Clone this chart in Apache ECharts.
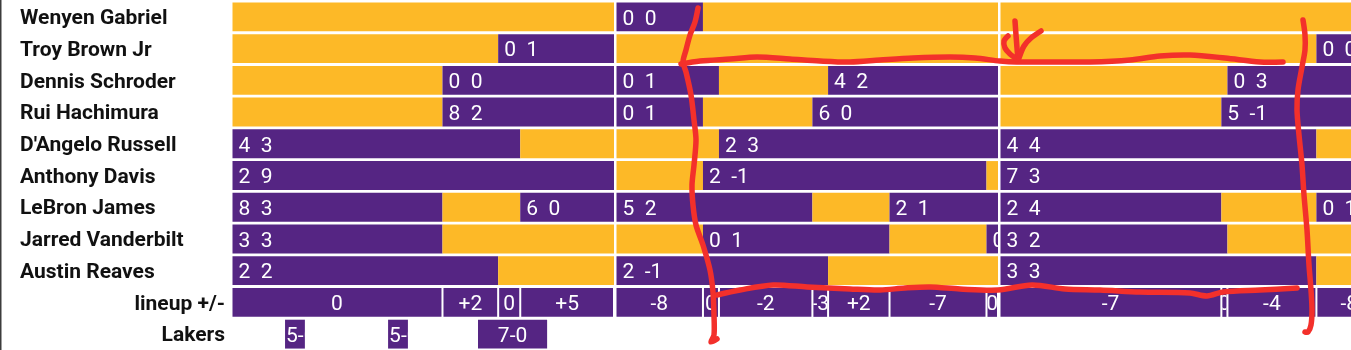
<!DOCTYPE html>
<html>
<head>
<meta charset="utf-8">
<script src="https://cdn.jsdelivr.net/npm/echarts@6/dist/echarts.min.js"></script>
<style>
  html, body { margin: 0; padding: 0; background: #ffffff; }
  #chart { width: 1351px; height: 350px; }
</style>
</head>
<body>
<div id="chart"></div>
<script>
// Lakers rotation chart: purple = on court, gold = on the bench.
const PURPLE = '#552583';
const GOLD = '#FDB927';
const FONT = 'Roboto';

const players = [
  'Wenyen Gabriel', 'Troy Brown Jr', 'Dennis Schroder', 'Rui Hachimura',
  "D'Angelo Russell", 'Anthony Davis', 'LeBron James', 'Jarred Vanderbilt', 'Austin Reaves'
];
const summaryRows = ['lineup +/-', 'Lakers'];
const quarterLength = 12;
const periods = [[0, 12], [12, 24], [24, 36]];

// On-court stints per player: [start minute, end minute, stat A, stat B]
const wenyenGabriel = [[12, 14.78, 0, 0]];
const troyBrownJr = [[8.38, 12, 0, 1], [33.95, 36, 0, 0]];
const dennisSchroder = [[6.64, 12, 0, 0], [12, 15.28, 0, 1], [18.69, 24, 4, 2], [31.17, 36, 0, 3]];
const ruiHachimura = [[6.64, 12, 8, 2], [12, 14.78, 0, 1], [18.2, 24, 6, 0], [30.98, 36, 5, -1]];
const dangeloRussell = [[0, 9.07, 4, 3], [15.28, 24, 2, 3], [24, 33.95, 4, 4]];
const anthonyDavis = [[0, 12, 2, 9], [14.78, 23.64, 2, -1], [24, 36, 7, 3]];
const lebronJames = [[0, 6.64, 8, 3], [9.07, 12, 6, 0], [12, 18.2, 5, 2], [20.61, 24, 2, 1], [24, 30.98, 2, 4], [33.95, 36, 0, 1]];
const jarredVanderbilt = [[0, 6.64, 3, 3], [14.78, 20.61, 0, 1], [23.64, 24, 0, 0], [24, 31.17, 3, 2]];
const austinReaves = [[0, 8.38, 2, 2], [12, 18.69, 2, -1], [24, 33.95, 3, 3]];

// Plus/minus of each five-man unit: [start, end, +/-]
const lineupPlusMinus = [
  [0, 6.64, 0], [6.64, 8.38, 2], [8.38, 9.07, 0], [9.07, 12, 5],
  [12, 14.78, -8], [14.78, 15.28, 0], [15.28, 18.2, -2], [18.2, 18.69, -3],
  [18.69, 20.61, 2], [20.61, 23.64, -7], [23.64, 24, 0],
  [24, 30.98, -7], [30.98, 31.17, 0], [31.17, 33.95, -4], [33.95, 36, -8]
];

// Scoring runs: [start, end, run]
const lakersRuns = [[1.72, 2.34, '5-0'], [4.94, 5.56, '5-0'], [7.75, 9.91, '7-0']];

const playerStints = [
  wenyenGabriel, troyBrownJr, dennisSchroder, ruiHachimura, dangeloRussell,
  anthonyDavis, lebronJames, jarredVanderbilt, austinReaves
];
const rowLabels = players.concat(summaryRows);

// Hand-drawn highlight strokes (pixel paths)
const highlightStrokes = [
  [[698, 8], [695, 22], [690, 35], [686, 50], [683, 62], [686, 72], [691, 95], [694, 120], [696, 140],
   [694, 165], [692, 185], [693, 205], [696, 225], [703, 245], [710, 270], [713, 292], [714, 315],
   [714, 335], [711, 342], [717, 339]],
  [[681, 64], [700, 61], [730, 59], [757, 57], [790, 59], [820, 61], [850, 62], [880, 60], [913, 58],
   [950, 57], [975, 58], [1000, 61], [1017, 62], [1050, 62], [1090, 62], [1130, 60], [1160, 56],
   [1190, 55], [1225, 58], [1260, 62], [1283, 62]],
  [[1015, 21], [1016, 35], [1017, 48], [1018, 60]],
  [[1008, 36], [1004, 41], [1005, 48], [1010, 54], [1017, 59]],
  [[1041, 31], [1031, 38], [1024, 46], [1019, 58]],
  [[1303, 20], [1305, 35], [1305, 50], [1302, 67], [1298, 90], [1297, 110], [1299, 135], [1302, 165],
   [1304, 195], [1307, 230], [1309, 265], [1311, 290], [1312, 310], [1311, 325], [1308, 332], [1305, 332]],
  [[717, 295], [740, 290], [773, 285], [807, 287], [850, 289], [880, 290], [905, 288], [930, 287],
   [960, 289], [998, 290], [1032, 285], [1065, 289], [1100, 290], [1140, 292], [1190, 293],
   [1207, 296], [1223, 292], [1260, 290], [1297, 288]]
];

// ---- build drawable segments ----
function statText(a, b) {
  return a + '  ' + b;
}

const playerSegments = [];
playerStints.forEach(function (stints, row) {
  periods.forEach(function (p) {
    let t = p[0];
    stints
      .filter(function (s) { return s[0] >= p[0] && s[1] <= p[1]; })
      .sort(function (a, b) { return a[0] - b[0]; })
      .forEach(function (s) {
        if (s[0] > t) playerSegments.push({ row: row, start: t, end: s[0], on: false });
        playerSegments.push({ row: row, start: s[0], end: s[1], on: true, text: statText(s[2], s[3]) });
        t = s[1];
      });
    if (t < p[1]) playerSegments.push({ row: row, start: t, end: p[1], on: false });
  });
});

const lineupRow = players.length;
const runsRow = players.length + 1;
const lineupSegments = lineupPlusMinus.map(function (d) {
  return { row: lineupRow, start: d[0], end: d[1], text: d[2] > 0 ? '+' + d[2] : String(d[2]) };
});
const runSegments = lakersRuns.map(function (d) {
  return { row: runsRow, start: d[0], end: d[1], text: d[2] };
});

const LABEL_SIZE = 21;
const measureCtx = document.createElement('canvas').getContext('2d');
function textWidth(text, size) {
  measureCtx.font = size + 'px ' + FONT;
  return measureCtx.measureText(text).width;
}

function segmentBox(api, seg, inset) {
  const a = api.coord([seg.start, seg.row]);
  const b = api.coord([seg.end, seg.row]);
  const band = api.size([0, 1])[1];
  const h = band * 0.91;
  const lead = seg.start % quarterLength === 0 ? 2.5 : 0;
  const x = a[0] + Math.max(lead, inset);
  return { x: x, y: a[1] - h / 2, width: Math.max(0, b[0] - inset - x), height: h };
}

function labelEl(box, text, x, align) {
  return {
    type: 'text',
    style: {
      text: text, x: x, y: box.y + box.height / 2 + 2.5,
      fill: '#ffffff', font: LABEL_SIZE + 'px ' + FONT,
      textAlign: align, textVerticalAlign: 'middle'
    },
    clipPath: { type: 'rect', shape: { x: box.x, y: box.y, width: box.width, height: box.height } }
  };
}

function renderPlayer(params, api) {
  const seg = playerSegments[params.dataIndex];
  const box = segmentBox(api, seg, 0);
  const children = [{ type: 'rect', shape: box, style: { fill: seg.on ? PURPLE : GOLD } }];
  if (seg.text) children.push(labelEl(box, seg.text, box.x + 6, 'left'));
  return { type: 'group', children: children };
}

function renderLineup(params, api) {
  const seg = lineupSegments[params.dataIndex];
  const box = segmentBox(api, seg, 1);
  return {
    type: 'group',
    children: [
      { type: 'rect', shape: box, style: { fill: PURPLE } },
      labelEl(box, seg.text, box.x + box.width / 2, 'center')
    ]
  };
}

function renderRun(params, api) {
  const seg = runSegments[params.dataIndex];
  const box = segmentBox(api, seg, 0);
  const w = textWidth(seg.text, LABEL_SIZE);
  const cx = Math.max(box.x + 1 + w / 2, box.x + box.width / 2);
  return {
    type: 'group',
    children: [
      { type: 'rect', shape: box, style: { fill: PURPLE } },
      labelEl(box, seg.text, cx, 'center')
    ]
  };
}

function toData(segs) {
  return segs.map(function (s) { return [s.row, s.start, s.end]; });
}

const customBase = {
  type: 'custom',
  encode: { x: [1, 2], y: 0 },
  clip: false,
  silent: true
};

const chart = echarts.init(document.getElementById('chart'), null, { renderer: 'canvas' });
chart.setOption({
  animation: false,
  backgroundColor: '#ffffff',
  grid: { left: 230, right: 0, top: 1, height: 350 },
  xAxis: {
    type: 'value', min: 0, max: (1351 - 230) / 32,
    show: false, splitLine: { show: false }
  },
  yAxis: {
    type: 'category',
    data: rowLabels,
    inverse: true,
    axisLine: { show: false },
    axisTick: { show: false },
    splitLine: { show: false },
    axisLabel: {
      interval: 0,
      margin: 210,
      align: 'left',
      padding: [4, 0, 0, 0],
      fontFamily: FONT,
      fontWeight: 'bold',
      fontSize: 21,
      color: '#111111',
      formatter: function (v) {
        return summaryRows.indexOf(v) >= 0 ? '{r|' + v + '}' : v;
      },
      rich: {
        r: { width: 205, align: 'right', fontFamily: FONT, fontWeight: 'bold', fontSize: 21, color: '#111111' }
      }
    }
  },
  graphic: [
    { type: 'rect', shape: { x: 0, y: 0, width: 1.5, height: 350 }, style: { fill: '#3c3c3c' }, z: 100 }
  ].concat(highlightStrokes.map(function (pts) {
    return {
      type: 'polyline',
      shape: { points: pts, smooth: 0.3 },
      style: { stroke: '#f3302b', lineWidth: 5.5, fill: null, lineCap: 'round', lineJoin: 'round' },
      z: 100
    };
  })),
  series: [
    Object.assign({}, customBase, { name: 'players', renderItem: renderPlayer, data: toData(playerSegments) }),
    Object.assign({}, customBase, { name: 'lineup', renderItem: renderLineup, data: toData(lineupSegments) }),
    Object.assign({}, customBase, { name: 'runs', renderItem: renderRun, data: toData(runSegments) })
  ]
});
</script>
</body>
</html>
